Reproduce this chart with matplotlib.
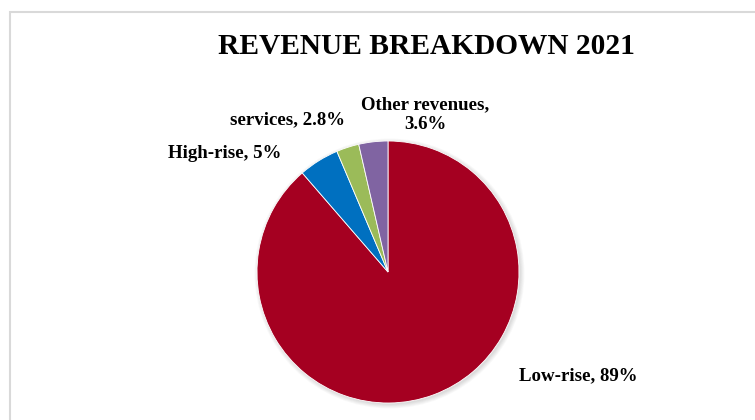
import matplotlib
matplotlib.use("Agg")
import matplotlib.pyplot as plt
from matplotlib.patches import Circle, Rectangle

# Revenue shares by segment, 2021
categories = ["Low-rise", "High-rise", "services", "Other revenues"]
shares = [89, 5, 2.8, 3.6]
colors = ["#A50021", "#0070C0", "#9BBB59", "#8064A2"]

W, H = 755, 420

plt.rcParams["font.family"] = ["Liberation Serif", "DejaVu Serif"]

fig = plt.figure(figsize=(W / 100, H / 100), dpi=100)
ax = fig.add_axes([0, 0, 1, 1])
ax.set_xlim(0, W)
ax.set_ylim(0, H)
ax.set_aspect("equal")
ax.axis("off")

# chart area frame
fig.patches.append(Rectangle((10 / W, -0.1), 1.2, (H - 12) / H + 0.1,
                             transform=fig.transFigure, fill=False,
                             edgecolor="#D9D9D9", linewidth=1.5))

cx, cy, r = 388, H - 272, 131

# soft shadow under the pie
for k in range(6):
    ax.add_patch(Circle((cx + 1.5, cy - 1.5), r + 4 - k * 0.8,
                        facecolor="#000000", alpha=0.025, edgecolor="none",
                        zorder=1))

wedges, _ = ax.pie(shares, colors=colors, startangle=90, counterclock=False,
                   center=(cx, cy), radius=r, frame=True,
                   wedgeprops=dict(edgecolor="white", linewidth=0.6))
for w in wedges:
    w.set_zorder(2)
ax.set_xlim(0, W)
ax.set_ylim(0, H)
ax.axis("off")

ax.text(426, H - 47, "REVENUE BREAKDOWN 2021", ha="center", va="center",
        fontsize=21.2, fontweight="bold")

labels = [f"{c}, {s:g}%" for c, s in zip(categories, shares)]
labels[3] = labels[3].replace(", ", ",\n")
label_pos = [(578, 376), (225, 153), (287, 120), (425, 115)]
for text, (x, y) in zip(labels, label_pos):
    ax.text(x, H - y, text, ha="center", va="center", fontsize=13.6,
            fontweight="bold", linespacing=1.2)

fig.savefig("out.png", dpi=100)
